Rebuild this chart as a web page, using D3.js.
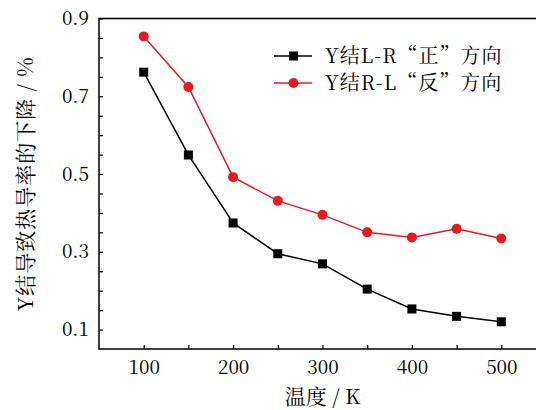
<!DOCTYPE html>
<html>
<head>
<meta charset="utf-8">
<script src="https://cdn.jsdelivr.net/npm/d3@7"></script>
<style>
  body { margin: 0; background: #fff; }
</style>
</head>
<body>
<script>
var width = 536, height = 410;
var margin = {left: 99, top: 18.5, right: -10, bottom: 61};
var serif = "Noto Serif CJK SC";

var temps = [100, 150, 200, 250, 300, 350, 400, 450, 500];
var forwardLR = [0.762, 0.549, 0.374, 0.295, 0.269, 0.204, 0.153, 0.134, 0.120];
var reverseRL = [0.854, 0.724, 0.492, 0.431, 0.395, 0.350, 0.337, 0.359, 0.334];
var xTickLabels = [100, 200, 300, 400, 500];
var yTickLabels = [0.1, 0.3, 0.5, 0.7, 0.9];
var seriesNames = ["Y结L-R“正”方向", "Y结R-L“反”方向"];

var svg = d3.select("body").append("svg")
    .attr("width", width)
    .attr("height", height);

var x = d3.scaleLinear().domain([50, 550])
    .range([margin.left, width - margin.right]);
var y = d3.scaleLinear().domain([0.05, 0.9])
    .range([height - margin.bottom, margin.top]);

//*********** frame (left, bottom, top only) *******************
var x0 = x(50), y0 = y(0.05), y1 = y(0.9);
svg.append("path")
    .attr("d", "M" + width + "," + y1 + "H" + x0 + "V" + y0 + "H" + width)
    .attr("fill", "none")
    .attr("stroke", "#000")
    .attr("stroke-width", 1.5);

// x ticks every 50, labels every 100
var xAxis = d3.axisBottom(x)
    .tickValues(d3.range(100, 550, 50))
    .tickSize(-4)
    .tickFormat(function(d){ return xTickLabels.indexOf(d) >= 0 ? d : ""; });
var gx = svg.append("g")
    .attr("transform", "translate(0," + y0 + ")")
    .call(xAxis);
gx.attr("font-family", serif).attr("font-size", 19);
gx.select(".domain").remove();
gx.selectAll("line").attr("stroke-width", 1.2);
gx.selectAll("text")
    .attr("y", 10)
    .attr("dy", "0.8em");

// y ticks every 0.05, labels every 0.2
var yAxis = d3.axisLeft(y)
    .tickValues(d3.range(0.1, 0.91, 0.05))
    .tickSize(-4)
    .tickFormat(function(d){
        var hit = yTickLabels.some(function(v){ return Math.abs(v - d) < 1e-6; });
        return hit ? d3.format(".1f")(d) : "";
    });
var gy = svg.append("g")
    .attr("transform", "translate(" + x0 + ",0)")
    .call(yAxis);
gy.attr("font-family", serif).attr("font-size", 19);
gy.select(".domain").remove();
gy.selectAll("line").attr("stroke-width", 1.2);
gy.selectAll("text")
    .attr("x", -10);

//*********** axis titles *******************
svg.append("text")
    .attr("x", x(300))
    .attr("y", 404)
    .attr("text-anchor", "middle")
    .attr("font-family", serif)
    .attr("font-size", 21)
    .text("温度 / K");

svg.append("text")
    .attr("transform", "translate(33," + ((y0 + y1) / 2) + ") rotate(-90)")
    .attr("text-anchor", "middle")
    .attr("font-family", serif)
    .attr("font-size", 21)
    .style("letter-spacing", "1px")
    .text("Y结导致热导率的下降 / %");

//*********** series *******************
var line = d3.line()
    .x(function(d){ return x(d[0]); })
    .y(function(d){ return y(d[1]); });

var black = temps.map(function(t, i){ return [t, forwardLR[i]]; });
var red = temps.map(function(t, i){ return [t, reverseRL[i]]; });

svg.append("path").datum(red)
    .attr("d", line).attr("fill", "none")
    .attr("stroke", "#e8191f").attr("stroke-width", 1.5);
svg.append("path").datum(black)
    .attr("d", line).attr("fill", "none")
    .attr("stroke", "#000").attr("stroke-width", 1.5);

svg.selectAll(".sq").data(black).enter().append("rect")
    .attr("class", "sq")
    .attr("x", function(d){ return x(d[0]) - 4.5; })
    .attr("y", function(d){ return y(d[1]) - 4.5; })
    .attr("width", 9).attr("height", 9)
    .attr("fill", "#000");

svg.selectAll(".dot").data(red).enter().append("circle")
    .attr("class", "dot")
    .attr("cx", function(d){ return x(d[0]); })
    .attr("cy", function(d){ return y(d[1]); })
    .attr("r", 5)
    .attr("fill", "#e8191f");

//*********** legend *******************
var legendColors = ["#000", "#e8191f"];
var lg = svg.selectAll(".lg").data(seriesNames).enter().append("g")
    .attr("class", "lg")
    .attr("transform", function(d, i){ return "translate(274," + (56 + i * 27) + ")"; });
lg.append("line")
    .attr("x1", 0).attr("x2", 38)
    .attr("stroke", function(d, i){ return legendColors[i]; })
    .attr("stroke-width", 1.5);
lg.each(function(d, i){
    var g = d3.select(this);
    if (i == 0) {
        g.append("rect").attr("x", 15).attr("y", -4.5).attr("width", 9).attr("height", 9).attr("fill", "#000");
    } else {
        g.append("circle").attr("cx", 19.5).attr("r", 5).attr("fill", "#e8191f");
    }
});
lg.append("text")
    .attr("x", 51)
    .attr("dy", "0.35em")
    .attr("font-family", serif)
    .attr("font-size", 20)
    .style("letter-spacing", "1px")
    .text(function(d){ return d; });
</script>
</body>
</html>
